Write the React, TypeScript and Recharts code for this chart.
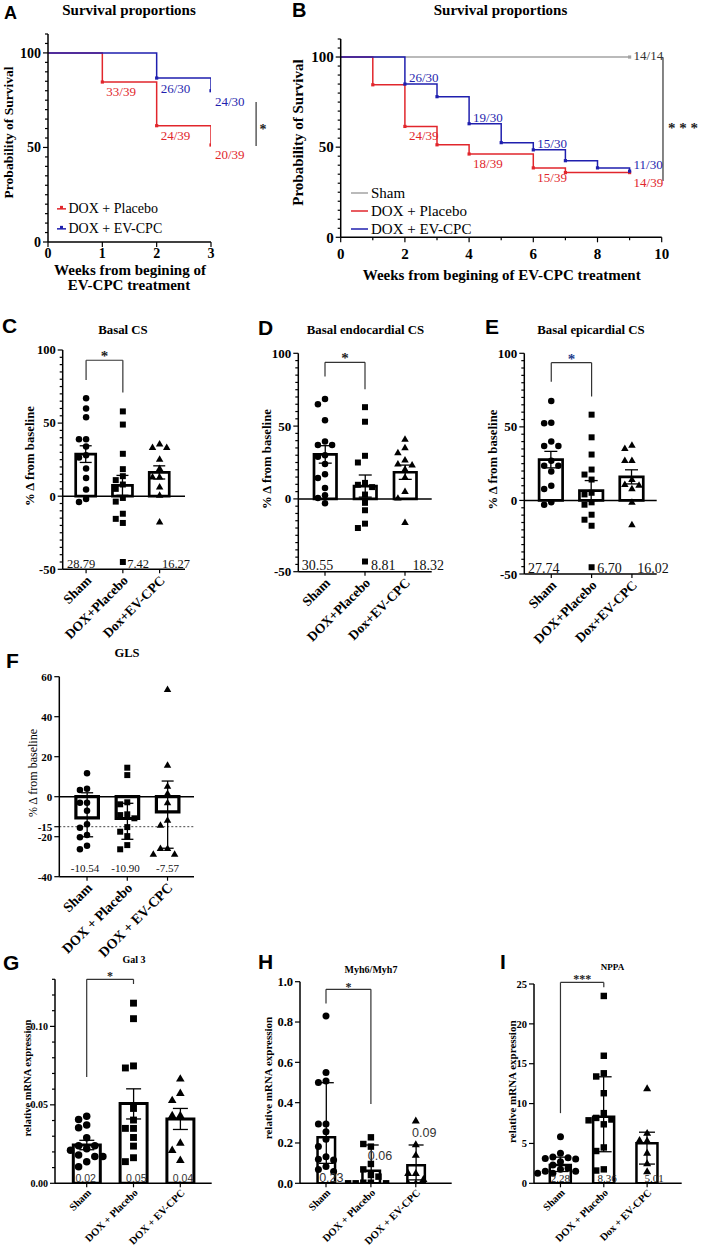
import React from 'react';
import {
  ComposedChart, LineChart, Line, Bar, Scatter, XAxis, YAxis, ErrorBar,
  ReferenceLine, ReferenceDot, LabelList, Legend,
} from 'recharts';

const SERIF = '"Liberation Serif", "Times New Roman", serif';
const SANS = '"Liberation Sans", Arial, sans-serif';
const RED = '#e1262c';
const BLUE = '#1f1fae';
const GRAY = '#a3a3a3';
const AX = { stroke: '#000', strokeWidth: 1.5 };

// ---------------- Panel A (survival, 3 weeks)
const weeksA_placebo = [0, 1, 2, 3];
const survA_placebo = [100, 84.6, 61.5, 51.3];
const labA_placebo = ['', '33/39', '24/39', '20/39'];
const weeksA_ev = [0, 2, 3];
const survA_ev = [100, 86.7, 80];
const labA_ev = ['', '26/30', '24/30'];

// ---------------- Panel B (survival, 10 weeks)
const weeksB_sham = [0, 9];
const survB_sham = [100, 100];
const labB_sham = ['', '14/14'];
const weeksB_placebo = [0, 1, 2, 3, 4, 6, 7, 9];
const survB_placebo = [100, 84.6, 61.5, 51.3, 46.2, 38.5, 35.9, 35.9];
const labB_placebo = ['', '', '24/39', '', '18/39', '15/39', '', '14/39'];
const weeksB_ev = [0, 2, 3, 4, 5, 6, 7, 8, 9];
const survB_ev = [100, 85, 78, 63, 52.5, 48.5, 42.5, 38.5, 36.7];
const labB_ev = ['', '26/30', '', '19/30', '', '15/30', '', '', '11/30'];

// ---------------- Panel C  Basal CS
const catsC = ['Sham', 'DOX+Placebo', 'Dox+EV-CPC'];
const meansC = [28.79, 7.42, 16.27];
const errC = [[5.7, 5.7], [6.8, 6.8], [4.5, 4.5]];
const shamC = [67, 60, 54, 39, 39, 34, 28, 26.5, 19, 12.5, 4.5, -2, -4];
const placeboC = [58, 49, 29, 18.5, 13.7, 11, 8, 5, -1.2, -3.7, -12, -15.5, -18.3, -45];
const evC = [35.7, 33.4, 33.4, 25.4, 19, 13.2, 13.2, 6.4, 0.7, -17.6];

// ---------------- Panel D  Basal endocardial CS
const catsD = ['Sham', 'DOX+Placebo', 'Dox+EV-CPC'];
const meansD = [30.55, 8.81, 18.32];
const errD = [[6, 6], [7.6, 7.6], [4.9, 4.9]];
const shamD = [68.6, 65, 54, 39.4, 37, 37, 30, 29, 24, 17, 14.4, 7.5, 2.5, 0.6, -3];
const placeboD = [63, 53, 29.6, 25, 11, 9.7, 8.1, 3, -2.7, -7.8, -17, -20, -43];
const evD = [41, 35.2, 31.8, 26.8, 24.1, 23.4, 20.4, 15, 5.1, 0.6, -16.1];

// ---------------- Panel E  Basal epicardial CS
const catsE = ['Sham', 'DOX+Placebo', 'Dox+EV-CPC'];
const meansE = [27.74, 6.7, 16.02];
const errE = [[5.6, 5.6], [6.8, 6.8], [4.8, 4.8]];
const shamE = [67.6, 52.8, 52.4, 40, 37, 37, 27, 23.6, 23.6, 19.7, 9.9, 7.7, -1.3, -3];
const placeboE = [58.3, 42.9, 31.2, 21, 17.6, 14.2, 5.2, 4.1, -1.3, -2.9, -9.7, -13.1, -17.2, -45.4];
const evE = [37.6, 35.3, 27.2, 27.2, 14.3, 10.9, 10.4, 8, -1.1, -16.5];

// ---------------- Panel F  GLS
const catsF = ['Sham', 'DOX + Placebo', 'DOX + EV-CPC'];
const meansF = [-10.54, -10.9, -7.57];
const errF = [[9.5, 12.5], [10.4, 7.6], [18.2, 15.4]];
const shamF = [11.7, 4, 3.3, -3, -3, -7, -13.8, -15.5, -19.2, -20.3, -24.5, -26.3];
const placeboF = [14.5, 10.8, -2.8, -3.8, -8.8, -9.2, -10.8, -15.2, -17.5, -19.7, -24.2, -26.3];
const evF = [53.7, 15.8, 5.3, 1.7, -3, -11.7, -14.2, -25.8, -25.8, -28.7, -28.7];

// ---------------- Panel G  Gal 3
const catsG = ['Sham', 'DOX + Placebo', 'DOX + EV-CPC'];
const meansG = [0.0244, 0.0508, 0.0409];
const errG = [[0.003, 0.003], [0.0098, 0.0094], [0.0066, 0.0068]];
const shamG = [0.0428, 0.0407, 0.0371, 0.0354, 0.029, 0.024, 0.024, 0.022, 0.021, 0.018, 0.017, 0.017, 0.0138, 0.0106];
const placeboG = [0.1148, 0.1049, 0.0748, 0.0735, 0.0477, 0.0403, 0.035, 0.035, 0.0292, 0.0237, 0.0163, 0.0138];
const evG = [0.0667, 0.0576, 0.053, 0.0434, 0.0434, 0.0258, 0.0212, 0.0148];

// ---------------- Panel H  Myh6/Myh7
const catsH = ['Sham', 'DOX + Placebo', 'DOX + EV-CPC'];
const meansH = [0.228, 0.062, 0.09];
const errH = [[0.129, 0.271], [0.059, 0.128], [0.073, 0.1]];
const shamH = [0.83, 0.55, 0.507, 0.5, 0.294, 0.294, 0.256, 0.218, 0.182, 0.132, 0.119, 0.116, 0.083, 0.069, 0.058];
const placeboH = [0.228, 0.195, 0.182, 0.096, 0.069, 0.041, 0.033, 0.003, 0.003, 0, 0, 0];
const evH = [0.31, 0.193, 0.14, 0.05, 0.05, 0.02, 0, 0];

// ---------------- Panel I  NPPA
const catsI = ['Sham', 'DOX + Placebo', 'Dox + EV-CPC'];
const meansI = [2.28, 8.36, 5.01];
const errI = [[0.8, 1.0], [4.4, 5.0], [2.6, 1.4]];
const shamI = [5.85, 3.76, 3.3, 3.2, 3.1, 3.05, 2.7, 2.3, 1.9, 1.75, 1.5, 1.5, 1.25, 1.25];
const placeboI = [23.5, 16.0, 13.8, 13.4, 11.3, 8.8, 8.2, 8.0, 7.9, 7.4, 4.5, 4.05, 1.75, 1.6];
const evI = [11.9, 6.3, 5.4, 5.35, 3.8, 2.5, 1.5];

const KINDS = ['circle', 'square', 'triangle'];

// ---------------- helpers
function buildTicks(domain: number[], majors: number[], step?: number) {
  const s = new Set<number>(majors);
  if (step) {
    for (let k = Math.round(domain[0] / step); k * step <= domain[1] + 1e-9; k++) s.add(+(k * step).toFixed(6));
  }
  return [...s].sort((a, b) => a - b);
}
const isMajor = (majors: number[], v: number) => majors.some((m) => Math.abs(m - v) < 1e-9);

function swarm(vals: number[], name: string, ppu: number, d: number) {
  const sorted = [...vals].sort((a, b) => b - a);
  const placed: { dx: number; py: number }[] = [];
  const out: { name: string; v: number; dx: number }[] = [];
  for (const v of sorted) {
    const py = v * ppu;
    let chosen = 0;
    for (let k = 0; k < 15; k++) {
      const m = k === 0 ? 0 : (k % 2 === 1 ? -1 : 1) * Math.ceil(k / 2);
      const cand = m * d;
      if (placed.every((p) => (p.dx - cand) ** 2 + (p.py - py) ** 2 >= d * d * 0.97)) { chosen = cand; break; }
    }
    placed.push({ dx: chosen, py });
    out.push({ name, v, dx: chosen });
  }
  return out;
}

const markerShape = (kind: string, size: number) => (props: any) => {
  const { cx, cy, payload } = props;
  if (cx == null || cy == null) return <g />;
  const x = cx + (payload && payload.dx ? payload.dx : 0);
  if (kind === 'circle') return <circle cx={x} cy={cy} r={size / 2} fill="#000" />;
  if (kind === 'square') {
    const s = size * 0.92;
    return <rect x={x - s / 2} y={cy - s / 2} width={s} height={s} fill="#000" />;
  }
  const s = size * 1.15;
  const h = s * 0.866;
  return <polygon points={`${x},${cy - h * 0.6} ${x - s / 2},${cy + h * 0.4} ${x + s / 2},${cy + h * 0.4}`} fill="#000" />;
};

const makeYTick = (majors: number[], fs: number, fmt: (v: number) => string, majLen = 5, minLen = 3) => (props: any) => {
  const { x, y, payload } = props;
  const v = payload.value;
  const maj = isMajor(majors, v);
  const len = maj ? majLen : minLen;
  return (
    <g>
      <line x1={x} y1={y} x2={x - len} y2={y} stroke="#000" strokeWidth={1.2} />
      {maj && (
        <text x={x - len - 2} y={y + fs * 0.35} textAnchor="end" fontFamily={SERIF} fontWeight="bold" fontSize={fs} fill="#000">
          {fmt(v)}
        </text>
      )}
    </g>
  );
};

const makeCatXTick = (fs: number, dx: number, dy: number) => (props: any) => {
  const { x, y, payload } = props;
  return (
    <g>
      <line x1={x} y1={y} x2={x} y2={y + 4} stroke="#000" strokeWidth={1.2} />
      <text transform={`translate(${x + dx},${y + dy}) rotate(-45)`} textAnchor="end" fontFamily={SERIF} fontWeight="bold" fontSize={fs} fill="#000">
        {payload.value}
      </text>
    </g>
  );
};

const makeNumXTick = (majors: number[], fs: number, dy: number) => (props: any) => {
  const { x, y, payload } = props;
  const v = payload.value;
  const maj = isMajor(majors, v);
  return (
    <g>
      <line x1={x} y1={y} x2={x} y2={y + (maj ? 5 : 3)} stroke="#000" strokeWidth={1.2} />
      {maj && (
        <text x={x} y={y + dy} textAnchor="middle" fontFamily={SERIF} fontWeight="bold" fontSize={fs} fill="#000">
          {v}
        </text>
      )}
    </g>
  );
};

// ---------------- Bar/scatter panel
function BarPanel(p: any) {
  const { pos, plot, cats, means, errs, groups, domain, majors, minorStep, tickFs, tickFmt, pad, barSize, barStroke, capW, marker, zeroLine, dotted, bracket, mean, xFs, xDx, xDy } = p;
  const X_H = 30;
  const plotH = pos.height - plot.top - plot.bottom;
  const ppu = plotH / (domain[1] - domain[0]);
  const data = cats.map((c: string, i: number) => ({ name: c, mean: means[i], err: errs[i] }));
  const pts = groups.map((g: number[], i: number) => swarm(g, cats[i], ppu, marker + 0.6));
  const ticks = buildTicks(domain, majors, minorStep);
  return (
    <div style={{ position: 'absolute', left: pos.left, top: pos.top }}>
      <ComposedChart width={pos.width} height={pos.height} data={data}
        margin={{ top: plot.top, right: plot.right, bottom: plot.bottom - X_H, left: 0 }}>
        <XAxis dataKey="name" type="category" allowDuplicatedCategory={false} interval={0}
          padding={{ left: pad[0], right: pad[1] }} height={X_H} tickSize={0} tickMargin={0} tickLine={false}
          axisLine={AX} tick={makeCatXTick(xFs, xDx, xDy)} />
        <YAxis type="number" domain={domain} ticks={ticks} allowDataOverflow interval={0} width={plot.left}
          tickSize={0} tickMargin={0} tickLine={false} axisLine={AX} tick={makeYTick(majors, tickFs, tickFmt)} />
        {dotted !== undefined && (
          <ReferenceLine y={dotted} stroke="#444" strokeWidth={1} strokeDasharray="2 2" />
        )}
        <Bar dataKey="mean" barSize={barSize} fill="#fff" stroke="#000" strokeWidth={barStroke} isAnimationActive={false}>
          <ErrorBar dataKey="err" width={capW} stroke="#000" strokeWidth={1.3} isAnimationActive={false} />
        </Bar>
        {zeroLine && <ReferenceLine y={0} stroke="#000" strokeWidth={1.5} />}
        {pts.map((g: any[], i: number) => (
          <Scatter key={'s' + i} data={g} dataKey="v" shape={markerShape(KINDS[i], marker)} isAnimationActive={false} />
        ))}
        {bracket && (
          <ReferenceLine segment={[{ x: cats[0], y: bracket.top }, { x: cats[1], y: bracket.top }]} ifOverflow="visible"
            shape={(q: any) => (
              <g>
                <line x1={q.x1} y1={q.y1} x2={q.x2} y2={q.y2} stroke="#333" strokeWidth={1.2} />
                <text x={(q.x1 + q.x2) / 2} y={q.y1 + bracket.starDy} textAnchor="middle" fontFamily={SERIF}
                  fontWeight="bold" fontSize={bracket.starFs} fill={bracket.starColor}>{bracket.star}</text>
              </g>
            )} />
        )}
        {bracket && (
          <ReferenceLine segment={[{ x: cats[0], y: bracket.top }, { x: cats[0], y: bracket.leftEnd }]} ifOverflow="visible"
            stroke="#333" strokeWidth={1.2} />
        )}
        {bracket && (
          <ReferenceLine segment={[{ x: cats[1], y: bracket.top }, { x: cats[1], y: bracket.rightEnd }]} ifOverflow="visible"
            stroke="#333" strokeWidth={1.2} />
        )}
        {cats.map((c: string, i: number) => (
          <ReferenceDot key={'m' + i} x={c} y={mean.ys[i]} r={1} ifOverflow="visible" zIndex={2000}
            shape={(q: any) => (
              <text x={q.cx + mean.dxs[i]} y={q.cy + mean.dy} textAnchor="middle" fontFamily={mean.family}
                fontSize={mean.fs} fill={mean.color}>{means[i].toFixed(2)}</text>
            )} />
        ))}
      </ComposedChart>
    </div>
  );
}

// ---------------- Survival panel
const lineLabel = (color: string, dy: number, fs: number) => (p: any) => {
  const v = p.value;
  if (!v) return null;
  const x = p.x != null ? p.x : p.viewBox && p.viewBox.x;
  const y = p.y != null ? p.y : p.viewBox && p.viewBox.y;
  return <text x={x + 4} y={y + dy} fill={color} fontFamily={SERIF} fontSize={fs}>{v}</text>;
};

const stepDot = (color: string) => (p: any) => {
  const { cx, cy, index } = p;
  if (index === 0 || cx == null) return <g key={'d' + index} />;
  return <rect key={'d' + index} x={cx - 1.6} y={cy - 1.6} width={3.2} height={3.2} fill={color} />;
};

const legendContent = (lg: any, order: string[]) => (props: any) => {
  const items = [...(props.payload || [])].sort((a: any, b: any) => order.indexOf(a.value) - order.indexOf(b.value));
  return (
    <div style={{ fontFamily: SERIF, fontSize: lg.fs, color: '#000' }}>
      {items.map((it: any) => (
        <div key={it.value} style={{ display: 'flex', alignItems: 'center', height: lg.rowH, whiteSpace: 'nowrap' }}>
          <svg width={lg.sampleW} height={lg.rowH} style={{ display: 'block' }}>
            <line x1={0} y1={lg.rowH / 2} x2={lg.sampleW} y2={lg.rowH / 2} stroke={it.color} strokeWidth={1.5} />
            {lg.dot && <rect x={lg.sampleW / 2 - 1.5} y={lg.rowH / 2 - 3} width={3} height={3} fill={it.color} />}
          </svg>
          <span style={{ marginLeft: lg.gap }}>{it.value}</span>
        </div>
      ))}
    </div>
  );
};

function SurvivalPanel(p: any) {
  const { pos, margin, series, xDomain, xTicks, xMajors, xTickDy, tickFs, legend, bracket, labelFs } = p;
  const yMaj = [0, 50, 100];
  const yTicks = buildTicks([0, 110], yMaj, 5);
  const order = series.map((s: any) => s.name);
  return (
    <div style={{ position: 'absolute', left: pos.left, top: pos.top }}>
      <LineChart width={pos.width} height={pos.height} margin={margin}>
        <XAxis type="number" dataKey="w" domain={xDomain} ticks={xTicks} allowDataOverflow interval={0} height={30}
          tickSize={0} tickMargin={0} tickLine={false} axisLine={AX} tick={makeNumXTick(xMajors, tickFs, xTickDy)} />
        <YAxis type="number" domain={[0, 110]} ticks={yTicks} allowDataOverflow interval={0} width={40}
          tickSize={0} tickMargin={0} tickLine={false} axisLine={AX} tick={makeYTick(yMaj, tickFs, String, 5, 3)} />
        {series.map((s: any) => (
          <Line key={s.name} name={s.name} data={s.weeks.map((w: number, i: number) => ({ w, s: s.surv[i], lab: s.labs[i] }))}
            dataKey="s" type="stepAfter" stroke={s.color} strokeWidth={1.5} dot={stepDot(s.color)} activeDot={false}
            isAnimationActive={false}>
            <LabelList dataKey="lab" content={lineLabel(s.labelColor, s.labelDy, labelFs)} />
          </Line>
        ))}
        <Legend layout="vertical" align="center" verticalAlign="middle"
          wrapperStyle={{ left: legend.left, top: legend.top, width: 'auto' }} content={legendContent(legend, order)} />
        <ReferenceLine segment={bracket.seg} ifOverflow="visible"
          shape={(q: any) => (
            <g>
              <line x1={q.x1} y1={q.y1} x2={q.x2} y2={q.y2} stroke="#333" strokeWidth={1.2} />
              <text x={q.x1 + bracket.dx} y={(q.y1 + q.y2) / 2 + bracket.dy} fontFamily={SERIF} fontWeight="bold"
                fontSize={bracket.fs} fill="#222">{bracket.star}</text>
            </g>
          )} />
      </LineChart>
    </div>
  );
}

// ---------------- overlay text
const letters = [
  { t: 'A', x: 4, y: 18.5, fs: 18 }, { t: 'B', x: 292, y: 17, fs: 20 }, { t: 'C', x: 2, y: 333, fs: 21 },
  { t: 'D', x: 258, y: 335, fs: 21 }, { t: 'E', x: 485, y: 334, fs: 21 }, { t: 'F', x: 6, y: 668, fs: 21 },
  { t: 'G', x: 3, y: 970, fs: 21 }, { t: 'H', x: 258, y: 969, fs: 21 }, { t: 'I', x: 500, y: 969, fs: 21 },
];
const titles = [
  { t: 'Survival proportions', x: 129, y: 15, fs: 15 },
  { t: 'Survival proportions', x: 500.5, y: 15, fs: 15 },
  { t: 'Basal CS', x: 123, y: 334, fs: 12.8 },
  { t: 'Basal endocardial CS', x: 365.5, y: 334, fs: 12.8 },
  { t: 'Basal epicardial CS', x: 591, y: 334, fs: 12.8 },
  { t: 'GLS', x: 127, y: 657, fs: 12.5 },
  { t: 'Gal 3', x: 134, y: 963, fs: 10 },
  { t: 'Myh6/Myh7', x: 371, y: 972.5, fs: 10 },
  { t: 'NPPA', x: 612.5, y: 970, fs: 9 },
];
const yTitles = [
  { t: 'Probability of Survival', x: 12.8, y: 132.5, fs: 13.5, w: 'bold' },
  { t: 'Probability of Survival', x: 302.5, y: 132.5, fs: 15, w: 'bold' },
  { t: '% Δ from baseline', x: 34, y: 456, fs: 12.8, w: 'bold' },
  { t: '% Δ from baseline', x: 270.5, y: 459, fs: 12.8, w: 'bold' },
  { t: '% Δ from baseline', x: 497, y: 459.5, fs: 12.8, w: 'bold' },
  { t: '% Δ from baseline', x: 37, y: 773, fs: 12, w: 'normal' },
  { t: 'relative mRNA expression', x: 31, y: 1078, fs: 10.5, w: 'bold' },
  { t: 'relative mRNA expression', x: 272, y: 1078, fs: 11, w: 'bold' },
  { t: 'relative mRNA expression', x: 515.5, y: 1081.7, fs: 11, w: 'bold' },
];
const xTitles = [
  { t: 'Weeks from begining of', x: 130, y: 275, fs: 15 },
  { t: 'EV-CPC treatment', x: 129, y: 290, fs: 15 },
  { t: 'Weeks from begining of EV-CPC treatment', x: 501.7, y: 280, fs: 15 },
];

function Overlay() {
  return (
    <svg width={702} height={1250} style={{ position: 'absolute', left: 0, top: 0, pointerEvents: 'none' }}>
      {letters.map((l, i) => (
        <text key={'l' + i} x={l.x} y={l.y} fontFamily={SANS} fontWeight="bold" fontSize={l.fs} fill="#000">{l.t}</text>
      ))}
      {titles.map((l, i) => (
        <text key={'t' + i} x={l.x} y={l.y} textAnchor="middle" fontFamily={SERIF} fontWeight="bold" fontSize={l.fs} fill="#000">{l.t}</text>
      ))}
      {yTitles.map((l, i) => (
        <text key={'y' + i} transform={`translate(${l.x},${l.y}) rotate(-90)`} textAnchor="middle" fontFamily={SERIF}
          fontWeight={l.w} fontSize={l.fs} fill="#000">{l.t}</text>
      ))}
      {xTitles.map((l, i) => (
        <text key={'x' + i} x={l.x} y={l.y} textAnchor="middle" fontFamily={SERIF} fontWeight="bold" fontSize={l.fs} fill="#000">{l.t}</text>
      ))}
    </svg>
  );
}

const fmtInt = (v: number) => String(v);

export default function App() {
  const seriesA = [
    { name: 'DOX + Placebo', color: RED, labelColor: RED, labelDy: 14, weeks: weeksA_placebo, surv: survA_placebo, labs: labA_placebo },
    { name: 'DOX + EV-CPC', color: BLUE, labelColor: BLUE, labelDy: 15, weeks: weeksA_ev, surv: survA_ev, labs: labA_ev },
  ];
  const seriesB = [
    { name: 'Sham', color: GRAY, labelColor: '#333', labelDy: 3, weeks: weeksB_sham, surv: survB_sham, labs: labB_sham },
    { name: 'DOX + Placebo', color: RED, labelColor: RED, labelDy: 14, weeks: weeksB_placebo, surv: survB_placebo, labs: labB_placebo },
    { name: 'DOX + EV-CPC', color: BLUE, labelColor: BLUE, labelDy: -2, weeks: weeksB_ev, surv: survB_ev, labs: labB_ev },
  ];
  const common = { xDx: 6, xDy: 12 };
  return (
    <div style={{ position: 'absolute', left: 0, top: 0, width: 702, height: 1250, background: '#fff', overflow: 'hidden' }}>
      <SurvivalPanel pos={{ left: 0, top: 0, width: 300, height: 300 }}
        margin={{ top: 34, right: 89, bottom: 28, left: 8 }} series={seriesA}
        xDomain={[0, 3]} xTicks={[0, 1, 2, 3]} xMajors={[0, 1, 2, 3]} xTickDy={16} tickFs={14} labelFs={13}
        legend={{ left: 57, top: 199, rowH: 19.7, fs: 14, sampleW: 9, gap: 2.5, dot: true }}
        bracket={{ seg: [{ x: 3.83, y: 74 }, { x: 3.83, y: 50.8 }], dx: 3.5, dy: 10, fs: 14, star: '*' }} />
      <SurvivalPanel pos={{ left: 290, top: 0, width: 412, height: 300 }}
        margin={{ top: 39, right: 40.3, bottom: 32.7, left: 10.7 }} series={seriesB}
        xDomain={[0, 10]} xTicks={[0, 1, 2, 3, 4, 5, 6, 7, 8, 9, 10]} xMajors={[0, 2, 4, 6, 8, 10]} xTickDy={21.5}
        tickFs={15} labelFs={13}
        legend={{ left: 61, top: 184, rowH: 18, fs: 15, sampleW: 17, gap: 3, dot: false }}
        bracket={{ seg: [{ x: 10.04, y: 99.8 }, { x: 10.04, y: 31.2 }], dx: 5, dy: 13.5, fs: 15, star: '* * *' }} />

      <BarPanel pos={{ left: 0, top: 310, width: 230, height: 340 }} plot={{ left: 62.7, top: 40, right: 45, bottom: 80.7 }}
        cats={catsC} means={meansC} errs={errC} groups={[shamC, placeboC, evC]}
        domain={[-50, 100]} majors={[-50, 0, 50, 100]} minorStep={5} tickFs={12.5} tickFmt={fmtInt}
        pad={[5, 7]} barSize={20} barStroke={2.7} capW={6} marker={6.5} zeroLine
        bracket={{ top: 93, leftEnd: 79.5, rightEnd: 71, star: '*', starFs: 15, starColor: '#222', starDy: 1 }}
        mean={{ ys: [-50, -50, -50], dxs: [-5, 15.3, 16.4], fs: 12.5, family: SERIF, color: '#111', dy: -1.5 }}
        xFs={13.5} {...common} />
      <BarPanel pos={{ left: 230, top: 310, width: 230, height: 340 }} plot={{ left: 68.3, top: 43.3, right: 28.3, bottom: 78.3 }}
        cats={catsD} means={meansD} errs={errD} groups={[shamD, placeboD, evD]}
        domain={[-50, 100]} majors={[-50, 0, 50, 100]} minorStep={5} tickFs={13} tickFmt={fmtInt}
        pad={[6.7, 6.7]} barSize={22.5} barStroke={2.7} capW={6.5} marker={6.5} zeroLine
        bracket={{ top: 93.8, leftEnd: 84, rightEnd: 75.3, star: '*', starFs: 15, starColor: '#222', starDy: 1 }}
        mean={{ ys: [-50, -50, -50], dxs: [-7.5, 18.3, 23.3], fs: 14, family: SERIF, color: '#111', dy: -1.5 }}
        xFs={13.5} {...common} />
      <BarPanel pos={{ left: 460, top: 310, width: 242, height: 340 }} plot={{ left: 64.3, top: 43.3, right: 45.3, bottom: 76 }}
        cats={catsE} means={meansE} errs={errE} groups={[shamE, placeboE, evE]}
        domain={[-50, 100]} majors={[-50, 0, 50, 100]} minorStep={5} tickFs={13} tickFmt={fmtInt}
        pad={[6.8, 4.6]} barSize={23.5} barStroke={2.7} capW={6.5} marker={6.5} zeroLine
        bracket={{ top: 93.6, leftEnd: 80.7, rightEnd: 70.6, star: '*', starFs: 15, starColor: '#1d3b8c', starDy: 1 }}
        mean={{ ys: [-50, -50, -50], dxs: [-7.5, 17.8, 21], fs: 14, family: SERIF, color: '#111', dy: -1.5 }}
        xFs={13.5} {...common} />
      <BarPanel pos={{ left: 0, top: 630, width: 240, height: 370 }} plot={{ left: 59.3, top: 46.7, right: 46, bottom: 123.3 }}
        cats={catsF} means={meansF} errs={errF} groups={[shamF, placeboF, evF]}
        domain={[-40, 60]} majors={[-40, -20, -15, 0, 20, 40, 60]} tickFs={11} tickFmt={fmtInt}
        pad={[7.6, 6.35]} barSize={22.5} barStroke={3.2} capW={6} marker={6.5} zeroLine dotted={-15}
        mean={{ ys: [-37.5, -37.5, -37.5], dxs: [-2, -1.7, 0], fs: 11, family: SERIF, color: '#111', dy: 0 }}
        xFs={14} xDx={6} xDy={12} />
      <BarPanel pos={{ left: 0, top: 940, width: 235, height: 310 }} plot={{ left: 55, top: 39.3, right: 23.3, bottom: 66.7 }}
        cats={catsG} means={meansG} errs={errG} groups={[shamG, placeboG, evG]}
        domain={[0, 0.13]} majors={[0, 0.05, 0.1]} minorStep={0.01} tickFs={10} tickFmt={(v: number) => v.toFixed(2)}
        pad={[8.3, 8]} barSize={27} barStroke={3} capW={7.5} marker={7.5}
        bracket={{ top: 0.13, leftEnd: 0.0678, rightEnd: 0.127, star: '*', starFs: 12, starColor: '#222', starDy: 0.5 }}
        mean={{ ys: [0, 0, 0], dxs: [-1, 2.8, 2.7], fs: 10.5, family: SANS, color: '#333', dy: -1.6 }}
        xFs={10.5} xDx={5} xDy={10} />
      <BarPanel pos={{ left: 230, top: 940, width: 235, height: 310 }} plot={{ left: 70, top: 41.7, right: 13.3, bottom: 66.7 }}
        cats={catsH} means={meansH} errs={errH} groups={[shamH, placeboH, evH]}
        domain={[0, 1]} majors={[0, 0.2, 0.4, 0.6, 0.8, 1]} tickFs={12.5} tickFmt={(v: number) => v.toFixed(1)}
        pad={[3.55, 13.45]} barSize={17.5} barStroke={2.5} capW={7.5} marker={7}
        bracket={{ top: 0.962, leftEnd: 0.892, rightEnd: 0.393, star: '*', starFs: 12, starColor: '#222', starDy: 1.5 }}
        mean={{ ys: [0.008, 0.1155, 0.231], dxs: [5.3, 9.1, 8.4], fs: 12.5, family: SANS, color: '#333', dy: 0 }}
        xFs={10.5} xDx={5} xDy={10} />
      <BarPanel pos={{ left: 460, top: 940, width: 242, height: 310 }} plot={{ left: 74, top: 44, right: 20.3, bottom: 66.7 }}
        cats={catsI} means={meansI} errs={errI} groups={[shamI, placeboI, evI]}
        domain={[0, 25]} majors={[0, 5, 10, 15, 20, 25]} tickFs={10.5} tickFmt={fmtInt}
        pad={[4.8, 12.9]} barSize={21} barStroke={2.5} capW={8} marker={7}
        bracket={{ top: 25.2, leftEnd: 8.8, rightEnd: 24.6, star: '***', starFs: 12, starColor: '#222', starDy: 0.5 }}
        mean={{ ys: [0.2, 0.2, 0.2], dxs: [0, 3.3, 7], fs: 11, family: SERIF, color: '#222', dy: 0 }}
        xFs={10.5} xDx={5} xDy={10} />
      <Overlay />
    </div>
  );
}
